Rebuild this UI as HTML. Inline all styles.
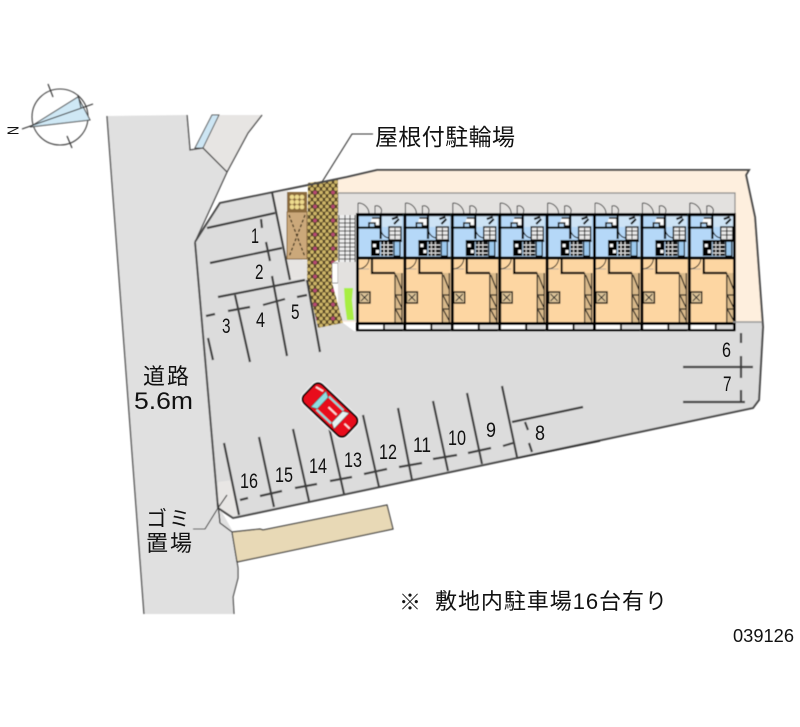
<!DOCTYPE html>
<html lang="ja"><head><meta charset="utf-8"><title>配置図</title>
<style>
html,body{margin:0;padding:0;background:#fff}
svg{display:block}
text{font-family:"Liberation Sans","Noto Sans CJK JP",sans-serif;fill:#111}
.n{font-size:21px}
</style></head><body>
<svg width="800" height="727" viewBox="0 0 800 727" xmlns="http://www.w3.org/2000/svg">
<defs>
<filter id="b" x="-2%" y="-2%" width="104%" height="104%"><feGaussianBlur stdDeviation="0.45"/></filter>
<pattern id="hex" width="18" height="14" patternUnits="userSpaceOnUse">
<rect width="18" height="14" fill="#4e3e22"/>
<g fill="#cdb567"><circle cx="3" cy="3.5" r="1.9"/><circle cx="9" cy="3.5" r="1.9"/><circle cx="15" cy="3.5" r="1.9"/><circle cx="0" cy="7" r="1.9"/><circle cx="6" cy="7" r="1.9"/><circle cx="12" cy="7" r="1.9"/><circle cx="18" cy="7" r="1.9"/><circle cx="3" cy="10.5" r="1.9"/><circle cx="15" cy="10.5" r="1.9"/><circle cx="0" cy="14" r="1.9"/><circle cx="6" cy="14" r="1.9"/><circle cx="12" cy="14" r="1.9"/><circle cx="18" cy="14" r="1.9"/><circle cx="0" cy="0" r="1.9"/><circle cx="6" cy="0" r="1.9"/><circle cx="12" cy="0" r="1.9"/><circle cx="18" cy="0" r="1.9"/></g>
<circle cx="9" cy="10.5" r="1.9" fill="#b84a72"/>
</pattern>
<g id="u">
<path d="M2 203V213M2 203A11 11 0 0 1 13 213M2 203" fill="none" stroke="#444" stroke-width="1"/>
<path d="M19 213V206A5 5 0 0 1 25 213" fill="none" stroke="#444" stroke-width="1"/>
<rect x="0" y="213" width="47.4" height="45" fill="#b5d8f8"/>
<rect x="0" y="258" width="47.4" height="65" fill="#fdd6a2"/>
<rect x="26" y="216" width="20" height="11" fill="#cde3f5"/>
<path d="M16 218h8v8h-5v-3h-6v4" fill="#fff" stroke="#111" stroke-width="1.6"/>
<rect x="0" y="226.500" width="24" height="2.200" fill="#000"/>
<rect x="23.500" y="215" width="2.200" height="24" fill="#000"/>
<path d="M25 228A9 9 0 0 0 34 238" fill="none" stroke="#111" stroke-width="1"/>
<rect x="33" y="227" width="12" height="13" fill="#e8e8e8" stroke="#000" stroke-width="1.400"/>
<path d="M34 231h10M34 235h10M39 228v11" stroke="#111" stroke-width="1"/>
<path d="M36 219l6 -2M38 224l5 -5" stroke="#000" stroke-width="2"/>
<rect x="15" y="241" width="9" height="15" fill="#000"/>
<rect x="17" y="244" width="3" height="3" fill="#fff"/><rect x="20" y="250" width="3" height="3" fill="#fff"/>
<rect x="25" y="241" width="12" height="15" fill="#111"/>
<path d="M28 241v15M32 241v15M25 245h12M25 249h12M25 253h12" stroke="#ddd" stroke-width="1"/>
<rect x="38" y="241" width="6" height="15" fill="#9cc9ee" stroke="#000" stroke-width="1.200"/>
<rect x="15" y="240" width="31" height="2" fill="#000"/>
<path d="M2 269A11 11 0 0 0 13 259" fill="none" stroke="#111" stroke-width="1"/>
<path d="M2 269h11" stroke="#999" stroke-width=".6"/>
<path d="M16 258V273H39" fill="none" stroke="#000" stroke-width="2.200"/>
<rect x="39" y="273" width="7" height="49" fill="#d9b98a"/>
<path d="M39 273V322M46 273V322M39 295H46M39 309H46M40 275L46 290M40 296L46 308M40 310L46 321" fill="none" stroke="#111" stroke-width="1.200"/>
<rect x="3" y="292" width="11" height="11" fill="#dcc398" stroke="#000" stroke-width="1.400"/>
<path d="M5 294l7 7M5 301l7 -7" stroke="#222" stroke-width="1"/>
<rect x="0" y="322" width="47.4" height="3" fill="#000"/>
<rect x="0" y="213" width="47.4" height="3.200" fill="#000"/>
<rect x="0" y="256.500" width="47.4" height="3" fill="#000"/>
<rect x="0" y="213" width="3" height="117" fill="#000"/>
<rect x="3" y="325" width="25" height="4" fill="#fff"/><rect x="29" y="325" width="18" height="4" fill="#ddd"/>
<rect x="27" y="324" width="2" height="6" fill="#000"/>
<rect x="0" y="329" width="47.4" height="2.400" fill="#000"/>
</g>
</defs>

<g filter="url(#b)">
<!-- road -->
<polygon points="107,116 187,115 190,150 203,148 227,172 195,242 218,505 232,530 238,568 238,578 233,597 234,614 144,614" fill="#e0e0e0"/>
<polygon points="219,115 262,115 248,133 227,172 203,148" fill="#e7e5e3"/>
<polygon points="212,115 219,115 203,148 195,148" fill="#cde6f4" stroke="#555" stroke-width="1"/>
<path d="M107 116L144 614" fill="none" stroke="#555" stroke-width="1.400"/>
<path d="M187 115L190 150L203 148L227 172M262 115L248 133L227 172L195 242" fill="none" stroke="#444" stroke-width="1.300"/>
<path d="M218 505L220 523L232 532L238 568L238 578L233 597L234 614" fill="none" stroke="#444" stroke-width="1.200"/>

<!-- peach -->
<polygon points="338,180 377,171 748,171 746,176 755,217 762,322 338,322" fill="#feefde"/>
<!-- lot -->
<polygon points="195,242 220,203 287,190 307,280 318,328 343,323 354,331 736,331 736,322 763,322 759,400 753,408 238,517 233,518 218,510" fill="#dcdcdc"/>
<polygon points="272,192 288,190 288,262 307,278 290,280" fill="#e8e6e4"/>
<polygon points="218,482 233,480 238,515 233,518 218,508" fill="#e8e6e4"/>
<!-- walkway -->
<rect x="338" y="193" width="397" height="21" fill="#e3e1df"/>
<path d="M338 193H735V213" fill="none" stroke="#888" stroke-width="1.200"/>
<rect x="332" y="193" width="6" height="20" fill="#fff" stroke="#777" stroke-width=".8"/>
<rect x="332" y="263" width="6" height="20" fill="#fff" stroke="#777" stroke-width=".8"/>
<rect x="338" y="213" width="18" height="108" fill="#e3e1df"/>
<!-- stairs -->
<rect x="339" y="215" width="16" height="47" fill="#eee"/>
<path d="M339 215V262M345 215V262M350 215V262M355 215V262M339 219H355M339 223H355M339 227H355M339 231H355M339 235H355M339 239H355M339 243H355M339 247H355M339 251H355M339 255H355M339 259H355" stroke="#333" stroke-width="1"/>
<!-- bike roof -->
<polygon points="308,183 338,179 338,260 332,263 332,283 343,323 318,328 307,280" fill="url(#hex)"/>
<!-- green -->
<path d="M344 288H353L352 300L354 320H347L345 305Z" fill="#a8ee42"/>
<!-- tan box -->
<rect x="287" y="192" width="20" height="20" fill="#8a6a3c"/>
<g fill="#eedb8e"><circle cx="292" cy="197" r="2.300"/><circle cx="297" cy="197" r="2.300"/><circle cx="302" cy="197" r="2.300"/><circle cx="292" cy="202" r="2.300"/><circle cx="297" cy="202" r="2.300"/><circle cx="302" cy="202" r="2.300"/><circle cx="292" cy="207" r="2.300"/><circle cx="297" cy="207" r="2.300"/><circle cx="302" cy="207" r="2.300"/></g>
<rect x="287" y="212" width="20" height="47" fill="#cba87a" stroke="#8a6a3c" stroke-width="1"/>
<path d="M289 215L305 257M305 215L289 257" stroke="#3f3018" stroke-width="1.300" stroke-dasharray="3 2"/>
<rect x="288" y="260" width="19" height="17" fill="#e6e4e2"/>

<!-- units -->
<use href="#u" x="356"/><use href="#u" x="403.400"/><use href="#u" x="450.800"/><use href="#u" x="498.200"/><use href="#u" x="545.600"/><use href="#u" x="593"/><use href="#u" x="640.400"/><use href="#u" x="687.800"/>
<rect x="733" y="213" width="2.800" height="118" fill="#000"/>

<!-- outer boundary -->
<path d="M195 242L220 203L347 177L377 170H749L746 175L755 217L763 327L759 400L753 408L238 517L233 518L218 508L195 242" fill="none" stroke="#4a4a4a" stroke-width="2"/>
<path d="M200 233L220 203" stroke="#4a4a4a" stroke-width="1.200"/>
<path d="M733 322H762" stroke="#999" stroke-width="1.500"/>
<path d="M517 458L600 441" stroke="#333" stroke-width="1.500"/>

<!-- parking lines -->
<g fill="none" stroke="#3c3c3c" stroke-width="2.200">
<path d="M207 228L275 213M261 219L262 228M272 192L290 280M210 263L282 248M266 242L270 261"/>
<path d="M218 297L305 280M272 276L287 356M235 295L250 362M228 311L250 307M263 305L285 299M297 297L307 295M206 316L215 314M208 338L213 360M307 280L320 352"/>
<path d="M224 443L239 515M259 437L274 507M293 429L309 501M329 427L344 494M363 415L379 487M398 408L412 480M433 401L448 471M467 393L482 464M502 386L517 457"/>
<path d="M240 500L248 498M260 496L282 491M295 488L317 484M330 481L352 477M364 474L387 469M399 467L422 463M433 459L457 455M468 453L491 448M503 446L513 443"/>
<path d="M512 422L583 407M525 422L528 430M529 443L532 452"/>
<path d="M683 367H753M683 402H745M741 333V343M741 356V378M741 390V402"/>
</g>

<!-- beige -->
<polygon points="232,532 260,529 263,530 387,505 393,529 237,562" fill="#e8d9b6" stroke="#3e3e3e" stroke-width="1.200"/>

<!-- leaders -->
<path d="M373 134H352L322 182" fill="none" stroke="#333" stroke-width="1.100"/>
<path d="M193 529H205L218 508L227 495M218 503L220 523" fill="none" stroke="#333" stroke-width="1.100"/>

<!-- compass -->
<circle cx="60" cy="117" r="28" fill="none" stroke="#444" stroke-width="1.100"/>
<polygon points="30,127 78,97 90,120" fill="#cfe8f5" stroke="#444" stroke-width="1"/>
<path d="M22 129L93 104M48 84L53 97M67 136L72 148M78 95L81 108" fill="none" stroke="#333" stroke-width="1.100"/>

<!-- car -->
<g transform="translate(330,410) rotate(43.500)">
<rect x="-31" y="-15" width="62" height="30" rx="8" fill="#fff"/>
<rect x="-29" y="-13" width="58" height="26" rx="6" fill="#e8101c" stroke="#000" stroke-width="2"/>
<path d="M-16 -11L-10 -8V8L-16 11Z" fill="#8fdde0" stroke="#222" stroke-width=".6"/>
<path d="M16 -11L10 -8V8L16 11Z" fill="#e6f2f2" stroke="#222" stroke-width=".6"/>
<path d="M-10 -10H10V-8H-10ZM-10 8H10V10H-10Z" fill="#8fdde0"/>
<path d="M-26 -7L-18 -9M-3 -1H8M20 0H27" stroke="#fbe0e0" stroke-width="1.800"/>
</g>
</g>

<!-- text -->
<g transform="translate(14,130.500) rotate(-90)"><text x="-4.500" y="0" font-size="16" textLength="9" lengthAdjust="spacingAndGlyphs" dominant-baseline="central">N</text></g>
<text x="375" y="145" font-size="23" textLength="140" lengthAdjust="spacing">屋根付駐輪場</text>
<text x="143" y="384" font-size="22" textLength="46" lengthAdjust="spacing">道路</text>
<text x="134" y="409" font-size="24" textLength="59" lengthAdjust="spacingAndGlyphs">5.6m</text>
<text x="146" y="526" font-size="21" textLength="44" lengthAdjust="spacing">ゴミ</text>
<text x="146" y="551" font-size="22" textLength="46" lengthAdjust="spacing">置場</text>
<text x="399" y="610" font-size="22">※</text>
<text x="435" y="609" font-size="22" textLength="232" lengthAdjust="spacing">敷地内駐車場16台有り</text>
<text x="733" y="642" font-size="18" textLength="61" lengthAdjust="spacingAndGlyphs">039126</text>
<g>
<text class="n" x="251" y="243" textLength="8" lengthAdjust="spacingAndGlyphs">1</text>
<text class="n" x="255" y="279" textLength="8.500" lengthAdjust="spacingAndGlyphs">2</text>
<text class="n" x="222" y="333" textLength="8.500" lengthAdjust="spacingAndGlyphs">3</text>
<text class="n" x="256" y="327" textLength="9" lengthAdjust="spacingAndGlyphs">4</text>
<text class="n" x="291" y="319" textLength="8.500" lengthAdjust="spacingAndGlyphs">5</text>
<text class="n" x="722" y="357" textLength="9" lengthAdjust="spacingAndGlyphs">6</text>
<text class="n" x="723" y="391" textLength="8.500" lengthAdjust="spacingAndGlyphs">7</text>
<text class="n" x="535" y="440" textLength="10" lengthAdjust="spacingAndGlyphs">8</text>
<text class="n" x="486" y="437" textLength="10" lengthAdjust="spacingAndGlyphs">9</text>
<text class="n" x="448" y="445" textLength="18" lengthAdjust="spacingAndGlyphs">10</text>
<text class="n" x="413" y="452" textLength="18" lengthAdjust="spacingAndGlyphs">11</text>
<text class="n" x="379" y="459" textLength="18" lengthAdjust="spacingAndGlyphs">12</text>
<text class="n" x="344" y="467" textLength="18" lengthAdjust="spacingAndGlyphs">13</text>
<text class="n" x="309" y="473" textLength="18" lengthAdjust="spacingAndGlyphs">14</text>
<text class="n" x="275" y="482" textLength="18" lengthAdjust="spacingAndGlyphs">15</text>
<text class="n" x="240" y="488" textLength="18" lengthAdjust="spacingAndGlyphs">16</text>
</g>
</svg>
</body></html>
